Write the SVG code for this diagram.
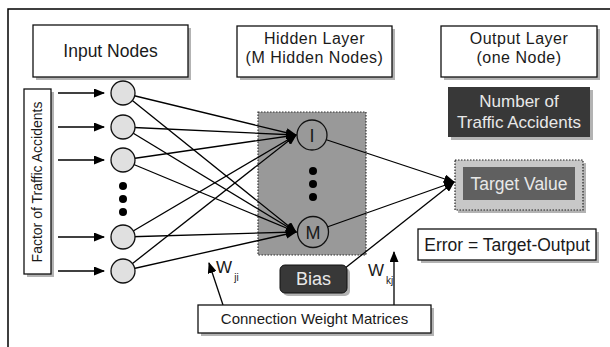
<svg xmlns="http://www.w3.org/2000/svg" width="610" height="347" viewBox="0 0 610 347">
<style>
text{font-family:"Liberation Sans",Arial,sans-serif;fill:#1a1a1a;text-anchor:middle}
.lt{fill:#e8e8e8}
.hd{font-size:16px;letter-spacing:0.5px}
.box{fill:#fff;stroke:#111;stroke-width:1.3}
.sh{fill:#b3b3b3}
.ln{stroke:#000;stroke-width:1.3;fill:none}
.inp{fill:#e0e0e0;stroke:#111;stroke-width:1.3}
.dot{fill:#000}
</style>
<defs>
<marker id="ah" markerWidth="11" markerHeight="9" refX="10" refY="4.5" orient="auto" markerUnits="userSpaceOnUse">
<path d="M0,0 L11,4.5 L0,9 z" fill="#000"/>
</marker>
</defs>
<rect x="8" y="9" width="700" height="400" fill="#fff" stroke="#000" stroke-width="1.5"/>

<g id="input-nodes-label">
<rect class="sh" x="36" y="28" width="155" height="52"/>
<rect class="box" x="33" y="25" width="155" height="52"/>
<text x="110.5" y="57" font-size="17.5">Input Nodes</text>
</g>
<g id="hidden-layer-label">
<rect class="sh" x="240" y="29" width="155" height="51"/>
<rect class="box" x="237" y="26" width="155" height="51"/>
<text class="hd" x="314.5" y="44">Hidden Layer</text>
<text class="hd" x="314.5" y="63">(M Hidden Nodes)</text>
</g>
<g id="output-layer-label">
<rect class="sh" x="444" y="29" width="156" height="51"/>
<rect class="box" x="441" y="26" width="156" height="51"/>
<text class="hd" x="519" y="44">Output Layer</text>
<text class="hd" x="519" y="63">(one Node)</text>
</g>
<g id="number-of-accidents">
<rect class="sh" x="451" y="90" width="142" height="50"/>
<rect x="448" y="87" width="142" height="50" fill="#383838"/>
<text class="lt" x="519" y="107" font-size="17">Number of</text>
<text class="lt" x="519" y="128" font-size="17">Traffic Accidents</text>
</g>
<g id="factor-label">
<rect class="sh" x="27" y="92" width="27" height="185"/>
<rect class="box" x="24" y="89" width="27" height="185"/>
<text transform="translate(42,182) rotate(-90)" font-size="14">Factor of Traffic Accidents</text>
</g>
<g id="hidden-box">
<rect x="258" y="112" width="108" height="143" fill="#999" stroke="#333" stroke-width="1.2" stroke-dasharray="1.5,1.5"/>
</g>

<g id="connectors">
<line class="ln" x1="58" y1="93" x2="104" y2="93" marker-end="url(#ah)"/>
<line class="ln" x1="58" y1="127" x2="104" y2="127" marker-end="url(#ah)"/>
<line class="ln" x1="58" y1="160" x2="104" y2="160" marker-end="url(#ah)"/>
<line class="ln" x1="58" y1="237" x2="104" y2="237" marker-end="url(#ah)"/>
<line class="ln" x1="58" y1="271" x2="104" y2="271" marker-end="url(#ah)"/>
<line class="ln" x1="123" y1="93" x2="296" y2="135" marker-end="url(#ah)"/>
<line class="ln" x1="123" y1="127" x2="296" y2="135" marker-end="url(#ah)"/>
<line class="ln" x1="123" y1="160" x2="296" y2="135" marker-end="url(#ah)"/>
<line class="ln" x1="123" y1="237" x2="296" y2="135" marker-end="url(#ah)"/>
<line class="ln" x1="123" y1="271" x2="296" y2="135" marker-end="url(#ah)"/>
<line class="ln" x1="123" y1="93" x2="296" y2="232" marker-end="url(#ah)"/>
<line class="ln" x1="123" y1="127" x2="296" y2="232" marker-end="url(#ah)"/>
<line class="ln" x1="123" y1="160" x2="296" y2="232" marker-end="url(#ah)"/>
<line class="ln" x1="123" y1="237" x2="296" y2="232" marker-end="url(#ah)"/>
<line class="ln" x1="123" y1="271" x2="296" y2="232" marker-end="url(#ah)"/>
<line class="ln" x1="312" y1="135" x2="454" y2="182" marker-end="url(#ah)"/>
<line class="ln" x1="313" y1="232" x2="454" y2="182" marker-end="url(#ah)"/>
<line class="ln" x1="330" y1="280" x2="454" y2="182" marker-end="url(#ah)"/>
<line class="ln" x1="223" y1="305" x2="209" y2="263" marker-end="url(#ah)"/>
<line class="ln" x1="394" y1="305" x2="394" y2="252" marker-end="url(#ah)"/>
</g>

<g id="input-node-1"><circle class="inp" cx="123" cy="93" r="12"/></g>
<g id="input-node-2"><circle class="inp" cx="123" cy="127" r="12"/></g>
<g id="input-node-3"><circle class="inp" cx="123" cy="160" r="12"/></g>
<g id="input-dots">
<circle class="dot" cx="123" cy="186" r="4"/>
<circle class="dot" cx="123" cy="199" r="4"/>
<circle class="dot" cx="123" cy="212" r="4"/>
</g>
<g id="input-node-4"><circle class="inp" cx="123" cy="237" r="12"/></g>
<g id="input-node-5"><circle class="inp" cx="123" cy="271" r="12"/></g>

<g id="hidden-node-I">
<circle cx="312" cy="135" r="15" fill="#999" stroke="#111" stroke-width="1.3"/>
<text x="312" y="141.5" font-size="18">I</text>
</g>
<g id="hidden-dots">
<circle class="dot" cx="313" cy="171" r="4"/>
<circle class="dot" cx="313" cy="184" r="4"/>
<circle class="dot" cx="313" cy="197" r="4"/>
</g>
<g id="hidden-node-M">
<circle cx="313" cy="232" r="15.5" fill="#999" stroke="#111" stroke-width="1.3"/>
<text x="313" y="238.5" font-size="18">M</text>
</g>

<g id="target-value">
<rect class="sh" x="458" y="163" width="128" height="50"/>
<rect x="455" y="160" width="128" height="50" fill="#c8c8c8" stroke="#222" stroke-width="1.2" stroke-dasharray="1.5,1.5"/>
<rect x="463" y="167" width="112" height="33" fill="#606060"/>
<text class="lt" x="519" y="190" font-size="17.5">Target Value</text>
</g>
<g id="error-box">
<rect class="sh" x="421" y="232" width="178" height="31"/>
<rect class="box" x="418" y="229" width="178" height="31"/>
<text x="507" y="251" font-size="17.5">Error = Target-Output</text>
</g>
<g id="bias">
<rect class="sh" x="283" y="268" width="67" height="28" rx="5"/>
<rect x="280" y="265" width="67" height="28" rx="5" fill="#383838" stroke="#111" stroke-width="1"/>
<text class="lt" x="313.5" y="285" font-size="18">Bias</text>
</g>
<g id="weight-labels">
<text x="224" y="273" font-size="17">W</text>
<text x="236.5" y="281" font-size="10">ji</text>
<text x="376" y="276" font-size="17">W</text>
<text x="389.5" y="284" font-size="10">kj</text>
</g>
<g id="connection-weight-matrices">
<rect class="sh" x="201" y="308" width="233" height="28"/>
<rect class="box" x="198" y="305" width="233" height="28"/>
<text x="314.5" y="324" font-size="15">Connection Weight Matrices</text>
</g>
</svg>
